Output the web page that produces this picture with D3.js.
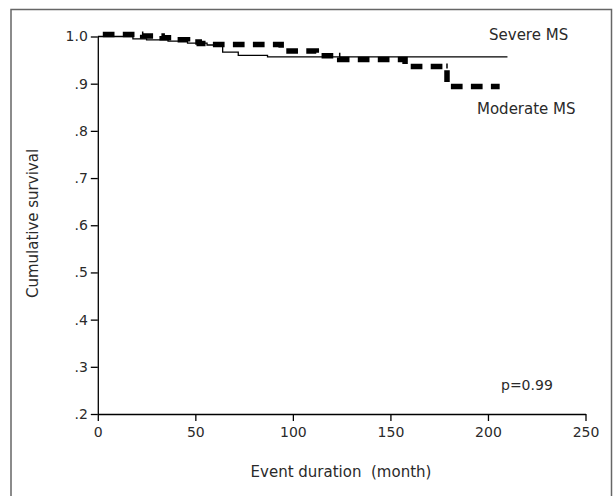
<!DOCTYPE html>
<html>
<head>
<meta charset="utf-8">
<script src="https://cdn.jsdelivr.net/npm/d3@7/dist/d3.min.js"></script>
<style>
  html, body { margin: 0; padding: 0; background: #fff; }
  svg { display: block; }
  text { font-family: "DejaVu Sans", sans-serif; fill: #2a2a2a; }
</style>
</head>
<body>
<svg id="chart" width="616" height="496"></svg>
<script>
// ---- data ----
const xTicks = [0, 50, 100, 150, 200, 250];
const yTicks = [0.2, 0.3, 0.4, 0.5, 0.6, 0.7, 0.8, 0.9, 1.0];
const yTickLabels = [".2", ".3", ".4", ".5", ".6", ".7", ".8", ".9", "1.0"];

const severeTime  = [0, 18, 25, 36, 46, 56, 64, 72, 87, 210];
const severeSurv  = [1.0, 0.995, 0.993, 0.990, 0.986, 0.982, 0.967, 0.960, 0.957, 0.957];

const moderateTime = [0, 23, 33, 40, 46, 52, 58, 94, 112, 124, 157.5, 179, 206];
const moderateSurv = [1.0, 0.997, 0.993, 0.989, 0.984, 0.981, 0.979, 0.965, 0.955, 0.947, 0.932, 0.890, 0.890];
const moderateCensored = [23, 124, 179];

const seriesLabels = ["Severe MS", "Moderate MS"];
const pText = "p=0.99";
const xTitle = "Event duration\u00A0 (month)";
const yTitle = "Cumulative survival";

// ---- chart ----
const svg = d3.select("#chart");

// outer frame
svg.append("rect")
  .attr("x", 11).attr("y", 9.5)
  .attr("width", 600.5).attr("height", 500)
  .attr("fill", "none").attr("stroke", "#666").attr("stroke-width", 1.5);

const x = d3.scaleLinear().domain([0, 250]).range([97.8, 585.5]);
const y = d3.scaleLinear().domain([0.2, 1.0]).range([414, 36.5]);

const yAxis = d3.axisLeft(y)
  .tickValues(yTicks)
  .tickFormat((d, i) => yTickLabels[i])
  .tickSize(7).tickSizeOuter(0).tickPadding(3);
const xAxis = d3.axisBottom(x)
  .tickValues(xTicks)
  .tickFormat(d3.format("d"))
  .tickSize(7).tickSizeOuter(0).tickPadding(6);

const gy = svg.append("g").attr("transform", `translate(${x(0)},0)`).call(yAxis);
const gx = svg.append("g").attr("transform", `translate(0,${y(0.2)})`).call(xAxis);
[gx, gy].forEach(g => {
  g.selectAll("path, line").attr("stroke", "#000").attr("stroke-width", 1.3);
  g.selectAll("text").style("font-family", '"DejaVu Sans", sans-serif')
    .style("font-size", "14px").attr("fill", "#2a2a2a");
});

const line = d3.line().curve(d3.curveStepAfter)
  .x(d => x(d[0])).y(d => y(d[1]));

const severe = severeTime.map((t, i) => [t, severeSurv[i]]);
const moderate = moderateTime.map((t, i) => [t, moderateSurv[i]]);

svg.append("path")
  .datum(severe)
  .attr("d", line)
  .attr("fill", "none").attr("stroke", "#000").attr("stroke-width", 1.3);

const modG = svg.append("g").attr("transform", "translate(0,-2)");
modG.append("path")
  .datum(moderate)
  .attr("d", line)
  .attr("fill", "none").attr("stroke", "#000")
  .attr("stroke-width", 5.5)
  .attr("stroke-dasharray", "11.7,8.3")
  .attr("stroke-dashoffset", 15);

// censor marks on moderate curve
const survAt = t => {
  let v = moderateSurv[0];
  for (let i = 0; i < moderateTime.length; i++) if (moderateTime[i] <= t) v = moderateSurv[i - (moderateTime[i] === t ? 1 : 0)];
  return v;
};
modG.selectAll("line.cens").data(moderateCensored).enter().append("line")
  .attr("x1", d => x(d)).attr("x2", d => x(d))
  .attr("y1", d => y(survAt(d)) - 3)
  .attr("y2", d => y(survAt(d)) + 2)
  .attr("stroke", "#000").attr("stroke-width", 1.5);

// labels
svg.append("text").attr("x", 489).attr("y", 40)
  .style("font-size", "15px").text(seriesLabels[0]);
svg.append("text").attr("x", 477).attr("y", 114)
  .style("font-size", "15px").text(seriesLabels[1]);
svg.append("text").attr("x", 501).attr("y", 390)
  .style("font-size", "14px").text(pText);

svg.append("text")
  .attr("x", 341).attr("y", 477).attr("text-anchor", "middle")
  .style("font-size", "15px").text(xTitle);
svg.append("text")
  .attr("transform", "translate(38,223.5) rotate(-90)")
  .attr("text-anchor", "middle")
  .style("font-size", "15px").text(yTitle);
</script>
</body>
</html>
